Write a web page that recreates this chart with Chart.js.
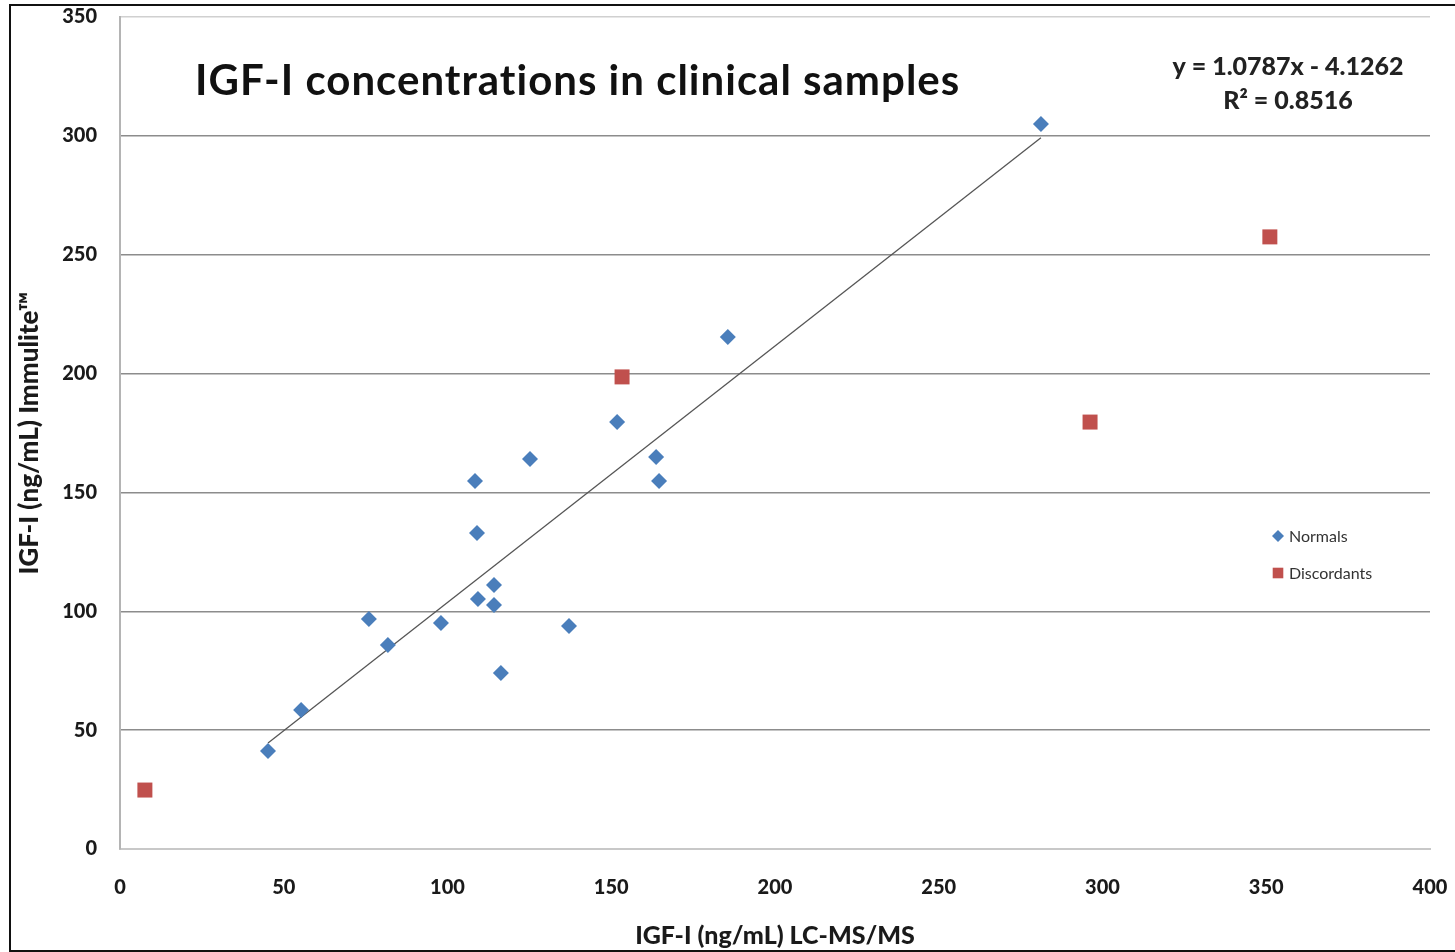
<!DOCTYPE html>
<html>
<head>
<meta charset="utf-8">
<title>IGF-I concentrations in clinical samples</title>
<script src="https://cdn.jsdelivr.net/npm/chart.js@4"></script>
<style>
  html, body { margin: 0; padding: 0; background: #fff; }
  #wrap { position: relative; width: 1455px; height: 952px; }
  #frame { position: absolute; left: 9px; top: 4px; width: 1460px; height: 944px;
           border: 2px solid #111; pointer-events: none; }
</style>
</head>
<body>
<div id="wrap">
  <canvas id="igfChart" width="1455" height="952"></canvas>
  <div id="frame"></div>
</div>
<script>
// LC-MS/MS (x) vs Immulite (y), ng/mL
const normalsX = [45.2, 55.3, 76.0, 81.8, 98.0, 108.4, 109.0, 109.3, 114.2, 114.2, 116.3, 125.2, 137.1, 151.8, 163.7, 164.6, 185.6, 281.2];
const normalsY = [41.2, 58.5, 96.8, 85.8, 95.1, 154.8, 132.9, 105.2, 111.1, 102.6, 74.0, 164.1, 93.8, 179.6, 164.9, 154.8, 215.4, 305.0];

const discordX = [7.6, 153.3, 296.2, 351.1];
const discordY = [24.8, 198.6, 179.6, 257.5];

// trend line as printed on the chart
const slope = 1.0787;
const intercept = -4.1262;
const rSquared = 0.8516;

const xTicks = [0, 50, 100, 150, 200, 250, 300, 350, 400];
const yTicks = [0, 50, 100, 150, 200, 250, 300, 350];

const FONT = "Lato, 'Open Sans', sans-serif";

function toPoints(xs, ys) {
    return xs.map((x, i) => ({ x: x, y: ys[i] }));
}

const trendX = [Math.min(...normalsX), Math.max(...normalsX)];
const trendPoints = trendX.map(x => ({ x: x, y: slope * x + intercept }));

// title, equation and legend drawn inside the plot area
const overlayPlugin = {
    id: 'overlay',
    afterDraw(chart) {
        const ctx = chart.ctx;
        const area = chart.chartArea;
        ctx.save();

        // chart title
        ctx.fillStyle = '#111';
        ctx.font = "bold 42px " + FONT;
        ctx.textAlign = 'left';
        ctx.textBaseline = 'alphabetic';
        ctx.letterSpacing = '1px';
        ctx.fillText('IGF-I concentrations in clinical samples', area.left + 75, area.top + 78);
        ctx.letterSpacing = '0px';

        // regression label
        ctx.font = "900 25px " + FONT;
        ctx.fillStyle = '#222';
        ctx.textAlign = 'center';
        ctx.textBaseline = 'middle';
        const sign = intercept < 0 ? ' - ' : ' + ';
        ctx.fillText('y = ' + slope.toFixed(4) + 'x' + sign + Math.abs(intercept).toFixed(4), area.right - 142, area.top + 50);
        ctx.fillText('R\u00B2 = ' + rSquared.toFixed(4), area.right - 142, area.top + 84);

        // legend
        const items = chart.data.datasets.filter(d => d.showInLegend);
        ctx.font = "16px " + FONT;
        ctx.textAlign = 'left';
        items.forEach((d, i) => {
            const cx = area.left + 1158;
            const cy = area.top + 519 + i * 37;
            ctx.fillStyle = d.backgroundColor;
            ctx.strokeStyle = d.backgroundColor;
            Chart.helpers.drawPoint(ctx, {
                pointStyle: d.pointStyle,
                radius: d.pointStyle === 'rect' ? 7.5 : 6,
                rotation: 0,
                borderWidth: 0
            }, cx, cy);
            ctx.fillStyle = '#333';
            ctx.fillText(d.label, cx + 11, cy + 1);
        });

        ctx.restore();
    }
};

new Chart(document.getElementById('igfChart').getContext('2d'), {
    type: 'scatter',
    data: {
        datasets: [
            {
                label: 'Normals',
                data: toPoints(normalsX, normalsY),
                pointStyle: 'rectRot',
                pointRadius: 8,
                pointHoverRadius: 8,
                backgroundColor: '#4A7EBB',
                borderColor: '#4A7EBB',
                borderWidth: 0,
                showInLegend: true,
                order: 1
            },
            {
                label: 'Discordants',
                data: toPoints(discordX, discordY),
                pointStyle: 'rect',
                pointRadius: 10.6,
                pointHoverRadius: 10.6,
                backgroundColor: '#C0504D',
                borderColor: '#C0504D',
                borderWidth: 0,
                showInLegend: true,
                order: 1
            },
            {
                type: 'line',
                label: 'Linear (Normals)',
                data: trendPoints,
                borderColor: '#555',
                borderWidth: 1.3,
                pointRadius: 0,
                fill: false,
                showInLegend: false,
                order: 2
            }
        ]
    },
    options: {
        responsive: false,
        animation: false,
        events: [],
        layout: { padding: { left: 0, top: 17, right: 25, bottom: 0 } },
        plugins: {
            legend: { display: false },
            tooltip: { enabled: false },
            title: { display: false }
        },
        scales: {
            x: {
                type: 'linear',
                min: 0,
                max: 400,
                afterBuildTicks: axis => { axis.ticks = xTicks.map(v => ({ value: v })); },
                afterFit: axis => {
                    axis.height = 103;
                    axis.paddingLeft = 0;
                    axis.paddingRight = 0;
                },
                grid: { display: false, drawTicks: false },
                border: { display: true, color: '#c8c8c8', width: 2 },
                ticks: {
                    color: '#1a1a1a',
                    padding: 27,
                    maxRotation: 0,
                    font: { family: FONT, size: 20, weight: 900 }
                },
                title: {
                    display: true,
                    text: 'IGF-I (ng/mL) LC-MS/MS',
                    color: '#1a1a1a',
                    padding: { top: 0, bottom: 1 },
                    font: { family: FONT, size: 25, weight: 900 }
                }
            },
            y: {
                type: 'linear',
                min: 0,
                max: 350,
                afterBuildTicks: axis => { axis.ticks = yTicks.map(v => ({ value: v })); },
                afterFit: axis => {
                    axis.width = 120;
                    axis.paddingTop = 0;
                    axis.paddingBottom = 0;
                },
                grid: {
                    color: ctx => ctx.tick && ctx.tick.value === 350 ? '#d0d0d0' : '#8c8c8c',
                    lineWidth: 1.5,
                    drawTicks: false
                },
                border: { display: true, color: '#b4b4b4', width: 2 },
                ticks: {
                    color: '#1a1a1a',
                    padding: 23,
                    font: { family: FONT, size: 20, weight: 900 }
                },
                title: {
                    display: true,
                    text: 'IGF-I (ng/mL) Immulite\u2122',
                    color: '#1a1a1a',
                    padding: { top: 14, bottom: 0 },
                    font: { family: FONT, size: 26, weight: 900 }
                }
            }
        }
    },
    plugins: [overlayPlugin]
});
</script>
</body>
</html>
